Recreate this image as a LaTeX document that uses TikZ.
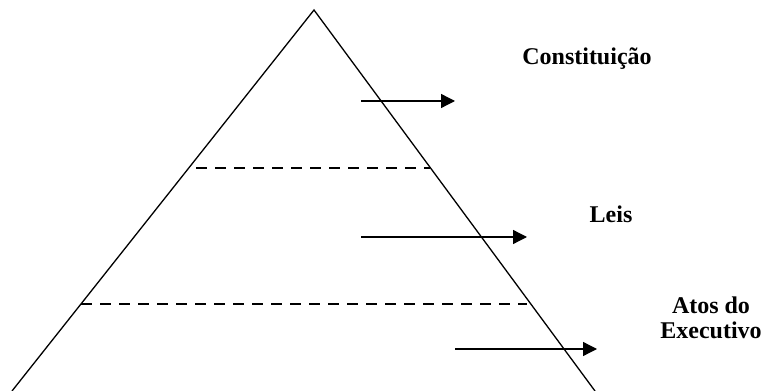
\documentclass[tikz,border=0pt]{standalone}
\usepackage{fontspec}
\setmainfont{Liberation Serif}
\usetikzlibrary{arrows.meta}

\begin{document}
\begin{tikzpicture}[x=1pt, y=1pt, line width=1.3pt,
    niveau/.style={font=\bfseries\fontsize{24}{25.5}\selectfont, inner sep=0pt, align=center},
    fleche/.style={-{Triangle[length=14pt, width=14pt]}},
    palier/.style={dash pattern=on 11pt off 8pt}]
    \useasboundingbox (0,0) rectangle (766,391);
    % pyramide
    \coordinate (sommet) at (314,381);
    \coordinate (baseG) at (12,0);
    \coordinate (baseD) at (595,0);
    \draw (baseG) -- (sommet) -- (baseD);
    % paliers
    \coordinate (p1g) at (196,223);
    \coordinate (p1d) at (430,223);
    \coordinate (p2g) at (81,87);
    \coordinate (p2d) at (527,87);
    \draw[palier] (p1g) -- (p1d);
    \draw[palier] (p2g) -- (p2d);
    % fleches
    \coordinate (f1a) at (361,290);
    \coordinate (f1b) at (455,290);
    \coordinate (f2a) at (361,154);
    \coordinate (f2b) at (527,154);
    \coordinate (f3a) at (455,42);
    \coordinate (f3b) at (597,42);
    \draw[fleche] (f1a) -- (f1b);
    \draw[fleche] (f2a) -- (f2b);
    \draw[fleche] (f3a) -- (f3b);
    % etiquettes
    \node[niveau, anchor=base] (constituicao) at (587,326) {Constituição};
    \node[niveau, anchor=base] (leis) at (611,168) {Leis};
    \node[niveau, anchor=base] (atos) at (711,52) {Atos do\\Executivo};
\end{tikzpicture}
\end{document}
